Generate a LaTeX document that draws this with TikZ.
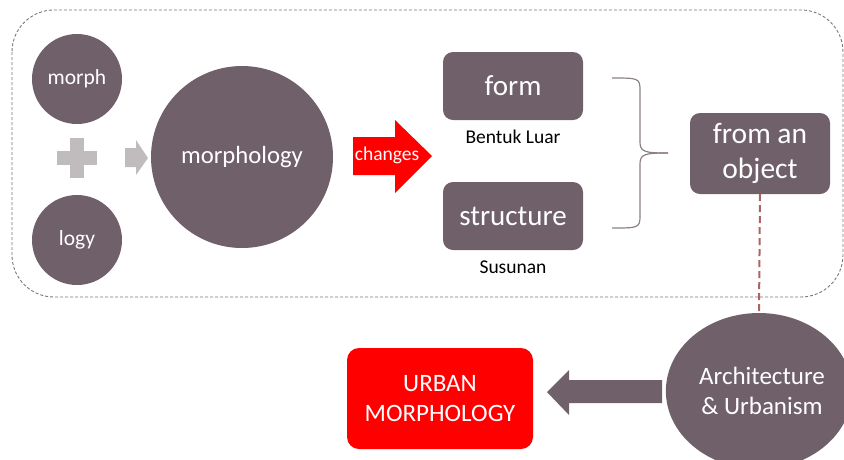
\documentclass[tikz,border=0pt]{standalone}
\usepackage{fontspec}
\setmainfont{Carlito}
\usetikzlibrary{shapes.geometric}
\definecolor{mauve}{RGB}{112,96,106}
\definecolor{lgrey}{RGB}{192,188,190}
\definecolor{bred}{RGB}{255,0,0}
\definecolor{dashbrown}{RGB}{170,100,100}
\definecolor{bracegrey}{RGB}{140,128,134}
\definecolor{framegrey}{RGB}{120,120,120}
\begin{document}
\begin{tikzpicture}[x=1pt,y=-1pt,
  disc/.style={circle,fill=mauve,text=white,inner sep=0pt},
  rbox/.style={rounded corners=10pt,fill=mauve,text=white,inner sep=0pt,align=center},
  caption/.style={text=black,inner sep=0pt,font=\fontsize{19.5}{22}\selectfont}]
\useasboundingbox (0,0) rectangle (844,459);
% dashed frame
\draw[draw=framegrey,line width=0.9pt,dash pattern=on 3pt off 2pt,rounded corners=42pt] (12,10) rectangle (843,297);
% circles
\node[disc,minimum size=90pt,font=\fontsize{21.5}{24}\selectfont] (morph) at (77,79) {morph};
\node[disc,minimum size=90pt,font=\fontsize{21.5}{24}\selectfont] (logy) at (77,240) {logy};
\node[disc,minimum size=182pt,font=\fontsize{24.7}{28}\selectfont] (morphology) at (242,157) {morphology};
% plus
\fill[lgrey] (57,151) rectangle (97,165);
\fill[lgrey] (70,138) rectangle (84,178);
% grey arrow
\fill[lgrey] (125,148) -- (136,148) -- (136,140) -- (148,158) -- (136,175) -- (136,167) -- (125,167) -- cycle;
% red changes arrow
\fill[bred] (353,137) -- (395,137) -- (395,120) -- (432,156) -- (395,193) -- (395,175) -- (353,175) -- cycle;
\node[text=white,inner sep=0pt,font=\fontsize{19.5}{22}\selectfont] (changes) at (387,155) {changes};
% boxes
\node[rbox,minimum width=140pt,minimum height=68pt,font=\fontsize{29}{32}\selectfont] (form) at (513,86) {form};
\node[rbox,minimum width=140pt,minimum height=68pt,font=\fontsize{29}{32}\selectfont] (structure) at (513,216) {structure};
\node[caption] (bentuk) at (513,137) {Bentuk Luar};
\node[caption] (susunan) at (513,267) {Susunan};
\node[rbox,minimum width=140pt,minimum height=81pt,font=\fontsize{29.5}{35}\selectfont] (object) at (760,153.5) {from an\\object};
% brace
\coordinate (bt) at (612,78);
\coordinate (bb) at (612,228);
\coordinate (btip) at (668,153);
\draw[bracegrey,line width=1.2pt] (bt) .. controls (638,78) and (640,78) .. (640,90) -- (640,142) .. controls (640,152) and (645,153) .. (btip);
\draw[bracegrey,line width=1.2pt] (btip) .. controls (645,153) and (640,154) .. (640,164) -- (640,216) .. controls (640,228) and (638,228) .. (bb);
% architecture ellipse
\node[ellipse,fill=mauve,text=white,inner sep=0pt,minimum width=168pt,minimum height=156pt,align=center,font=\fontsize{25}{30}\selectfont] (arch) at (759,391) {\hspace*{6pt}Architecture\\\hspace*{6pt}\& Urbanism};
\draw[dashbrown,line width=2pt,dash pattern=on 7pt off 4pt] (object.south) -- (arch.north);
% urban morphology
\node[rounded corners=12pt,fill=bred,text=white,inner sep=0pt,align=center,minimum width=186pt,minimum height=101pt,font=\fontsize{25}{30}\selectfont] (urban) at (440,398.5) {URBAN\\MORPHOLOGY};
% big grey arrow
\fill[mauve] (662,380) -- (569,380) -- (569,370) -- (547,392) -- (569,415) -- (569,403) -- (662,403) -- cycle;
\end{tikzpicture}
\end{document}
